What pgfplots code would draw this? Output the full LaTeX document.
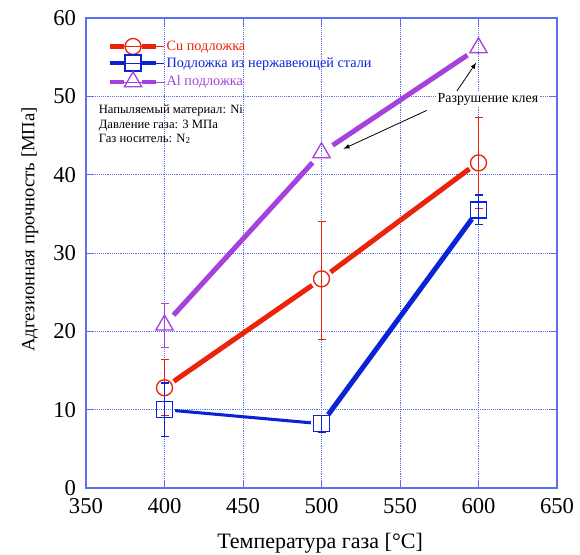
\documentclass[border=0pt]{standalone}
\usepackage{pgfplots}
\pgfplotsset{compat=1.18}
\usepackage{fontspec}
\setmainfont{Liberation Serif}
\definecolor{cured}{RGB}{235,35,10}
\definecolor{ssblue}{RGB}{10,35,215}
\definecolor{alpur}{RGB}{165,65,220}
\definecolor{gridblue}{RGB}{90,110,240}
\begin{document}
\begin{tikzpicture}
\begin{axis}[
  scale only axis,
  width=353.25pt, height=352.5pt,
  xmin=350, xmax=650, ymin=0, ymax=60,
  xtick={350,400,...,650}, ytick={0,10,...,60},
  axis line style={gridblue, line width=0.8pt},
  tick style={gridblue, line width=0.6pt},
  tick align=inside,
  major tick length=5pt,
  grid=major,
  major grid style={gridblue, densely dotted, line width=0.6pt},
  tick label style={font=\fontsize{17}{19}\selectfont},
  xticklabel style={yshift=-4pt},
  yticklabel style={xshift=-4pt},
  /pgf/number format/assume math mode=true,
  xlabel={Температура газа [°C]},
  ylabel={Адгезионная прочность [МПа]},
  xlabel style={font=\fontsize{16.5}{18}\selectfont, at={(axis description cs:0.497,-0.117)}, anchor=center},
  ylabel style={font=\fontsize{14}{16}\selectfont, at={(axis description cs:-0.119,0.55)}, anchor=center},
  legend style={at={(0.045,0.957)}, anchor=north west, draw=none, fill=none,
    font=\fontsize{10.7}{11.6}\selectfont, row sep=0.5pt, inner sep=0pt,
    nodes={inner sep=1.5pt}},
  legend cell align=left,
  legend image code/.code={
    \path (0pt,0pt) -- (41pt,0pt);
    \draw[#1, mark=none, line width=3.4pt] (0pt,0pt) -- (10.5pt,0pt);
    \draw[#1, mark=none, line width=3.4pt] (24.5pt,0pt) -- (35pt,0pt);
    \draw[#1, line width=1pt] plot coordinates {(17.5pt,0pt)};
  },
]
\addlegendimage{cured, mark=o, mark size=6pt, mark options={fill=white, line width=1pt}}
\addlegendentry{\textcolor{cured}{Cu подложка}}
\addlegendimage{ssblue, mark=square, mark size=6pt, mark options={fill=white, line width=1pt}}
\addlegendentry{\textcolor{ssblue}{Подложка из нержавеющей стали}}
\addlegendimage{alpur, mark=triangle, mark size=7.5pt, mark options={fill=white, line width=1pt}}
\addlegendentry{\textcolor{alpur}{Al подложка}}

% line segments
\addplot[alpur, line width=3.75pt, shorten <=10pt, shorten >=10pt, forget plot] coordinates {(400,20.8) (500,42.8)};
\addplot[alpur, line width=3.75pt, shorten <=10pt, shorten >=10pt, forget plot] coordinates {(500,42.8) (600,56.2)};
\addplot[cured, line width=3.75pt, shorten <=8.5pt, shorten >=8.5pt, forget plot] coordinates {(400,12.8) (500,26.7)};
\addplot[cured, line width=3.75pt, shorten <=8.5pt, shorten >=8.5pt, forget plot] coordinates {(500,26.7) (600,41.6)};
\addplot[ssblue, line width=2.3pt, shorten <=8pt, shorten >=8pt, forget plot] coordinates {(400,10.0) (500,8.2)};
\addplot[ssblue, line width=3.75pt, shorten <=8.5pt, shorten >=8.5pt, forget plot] coordinates {(500,8.2) (600,35.5)};

% markers with error bars
\addplot[cured, only marks, mark=o, mark size=6pt, mark options={fill=white, line width=1pt}, forget plot,
  error bars/.cd, y dir=both, y explicit, error bar style={line width=0.8pt}, error mark options={rotate=90, mark size=3pt, line width=0.8pt}]
  coordinates {(400,12.8) +- (0,3.6) (500,26.7) += (0,7.3) -= (0,7.7) (600,41.5) +- (0,5.8)};
\addplot[ssblue, only marks, mark=square, mark size=6pt, mark options={fill=white, line width=1pt}, forget plot,
  error bars/.cd, y dir=both, y explicit, error bar style={line width=0.8pt}, error mark options={rotate=90, mark size=3pt, line width=0.8pt}]
  coordinates {(400,10.0) +- (0,3.4) (500,8.2) +- (0,1.1) (600,35.5) +- (0,1.9)};
\addplot[alpur, only marks, mark=triangle, mark size=7.5pt, mark options={fill=white, line width=1pt}, forget plot,
  error bars/.cd, y dir=both, y explicit, error bar style={line width=0.8pt}, error mark options={rotate=90, mark size=3pt, line width=0.8pt}]
  coordinates {(400,20.8) += (0,2.7) -= (0,2.9) (500,42.8) (600,56.2)};

% annotations
\node[anchor=north west, align=left, font=\fontsize{9.5}{10.6}\selectfont, inner sep=0pt]
  at (axis cs:358,48.9) {Напыляемый материал: Ni\\Давление газа: 3 МПа\\Газ носитель: N\textsubscript{2}};
\draw[-latex, line width=0.6pt] (axis cs:586,50.6) -- (axis cs:598.5,54.3);
\draw[-latex, line width=0.6pt] (axis cs:567,48.2) -- (axis cs:514,43.3);
\node[fill=white, inner sep=1.5pt, font=\fontsize{10.4}{12}\selectfont] at (axis cs:606,49.6) {Разрушение клея};
\end{axis}
\pgfresetboundingbox
\path ([shift={(-64.5pt,-50.25pt)}]current axis.south west) rectangle ([shift={(17.25pt,13.5pt)}]current axis.north east);
\end{tikzpicture}
\end{document}
